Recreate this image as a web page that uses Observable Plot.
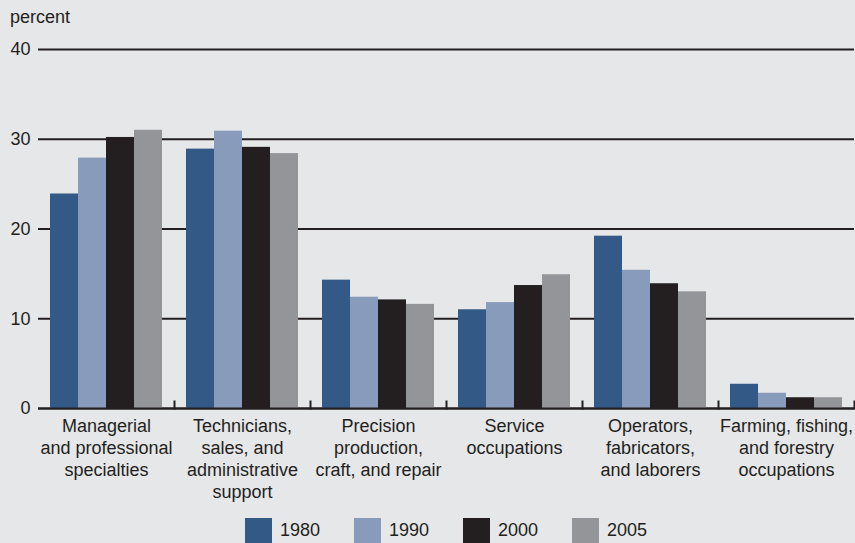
<!DOCTYPE html>
<html>
<head>
<meta charset="utf-8">
<script src="https://cdn.jsdelivr.net/npm/d3@7"></script>
<script src="https://cdn.jsdelivr.net/npm/@observablehq/plot@0.6"></script>
<style>
  html, body { margin: 0; padding: 0; background: #e6e7e9; }
  #wrap { position: relative; width: 855px; height: 543px; overflow: hidden;
          font-family: "Liberation Sans", Arial, Helvetica, sans-serif; color: #231f20; }
  #ylabel { position: absolute; left: 10px; top: 8px; font-size: 18px; line-height: 18px; }
  #legend { display: flex; justify-content: center; margin-left: 38px; width: 816px; margin-top: 6px; }
  .item { display: flex; align-items: center; margin-right: 34px; font-size: 18px; }
  .item:last-child { margin-right: 0; }
  .sw { width: 27px; height: 25px; margin-right: 8px; }
</style>
</head>
<body>
<div id="wrap">
  <div id="chart"></div>
  <div id="ylabel">percent</div>
  <div id="legend"></div>
</div>
<script>
const categories = [
  "Managerial\nand professional\nspecialties",
  "Technicians,\nsales, and\nadministrative\nsupport",
  "Precision\nproduction,\ncraft, and repair",
  "Service\noccupations",
  "Operators,\nfabricators,\nand laborers",
  "Farming, fishing,\nand forestry\noccupations"
];
const years = ["1980", "1990", "2000", "2005"];
const values1980 = [23.9, 28.9, 14.3, 11.0, 19.2, 2.7];
const values1990 = [27.9, 30.9, 12.4, 11.8, 15.4, 1.7];
const values2000 = [30.2, 29.1, 12.1, 13.7, 13.9, 1.2];
const values2005 = [31.0, 28.4, 11.6, 14.9, 13.0, 1.2];
const yTicks = [0, 10, 20, 30, 40];
const colors = ["#335a87", "#889bba", "#231f20", "#949599"];

const series = [values1980, values1990, values2000, values2005];
const data = [];
categories.forEach((c, i) => {
  years.forEach((yr, j) => data.push({category: c, year: yr, value: series[j][i]}));
});

const H = 512, MT = 49, MB = 104;
const ink = "#231f20";

const chart = Plot.plot({
  width: 855,
  height: H,
  marginTop: MT,
  marginBottom: MB,
  marginLeft: 38,
  marginRight: 1,
  style: {background: "transparent", fontFamily: "'Liberation Sans', Arial, Helvetica, sans-serif", fontSize: "18px", color: ink},
  fx: {domain: categories, axis: null, padding: 0},
  x: {domain: years, axis: null, paddingInner: 0, paddingOuter: 0.37},
  y: {domain: [0, 40], ticks: yTicks, tickSize: 0, tickPadding: 8, label: null},
  color: {domain: years, range: colors},
  marks: [
    Plot.gridY(yTicks, {stroke: ink, strokeOpacity: 1, strokeWidth: 2}),
    Plot.barY(data, {fx: "category", x: "year", y: "value", fill: "year"}),
    Plot.ruleY([0], {stroke: ink, strokeWidth: 2}),
    Plot.frame({anchor: "right", stroke: ink, strokeWidth: 2, insetTop: H - MT - MB - 7}),
    Plot.text(categories, {fx: d => d, text: d => d, frameAnchor: "bottom", lineAnchor: "top", dy: 8, fontSize: 18, lineHeight: 1.22, fill: ink})
  ]
});
document.getElementById("chart").appendChild(chart);

const legend = document.getElementById("legend");
years.forEach((yr, j) => {
  const item = document.createElement("div");
  item.className = "item";
  const sw = document.createElement("div");
  sw.className = "sw";
  sw.style.background = colors[j];
  const t = document.createElement("span");
  t.textContent = yr;
  item.appendChild(sw);
  item.appendChild(t);
  legend.appendChild(item);
});
</script>
</body>
</html>
